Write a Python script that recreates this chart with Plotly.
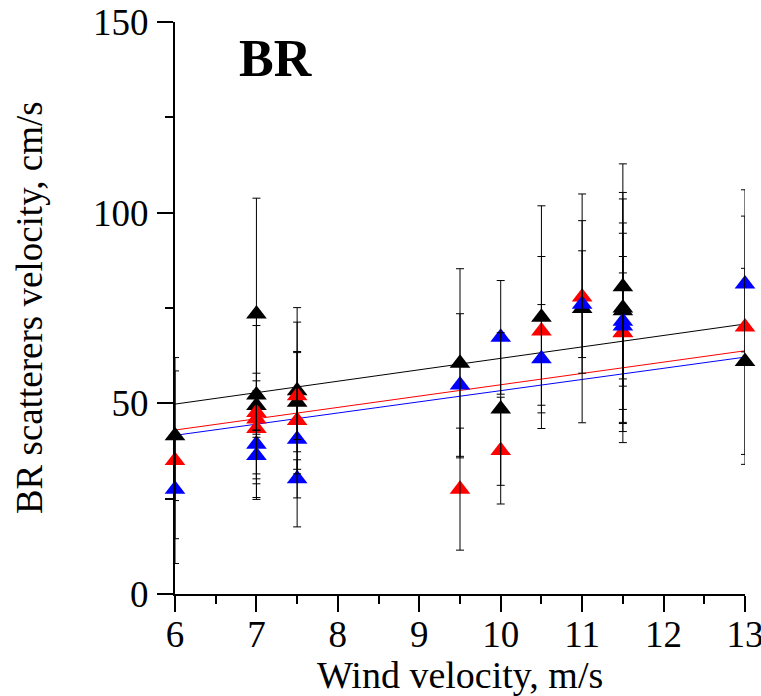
import plotly.graph_objects as go

# ---- data ----
black_x = [6, 7, 7, 7, 7.5, 7.5, 9.5, 10, 10.5, 11, 11.5, 11.5, 11.5, 13]
black_y = [41.5, 73.4, 52.2, 49.4, 53.3, 50.3, 60.5, 48.5, 72.6, 74.9, 80.6, 75.0, 74.3, 61.0]
black_err = [17, 30.4, 22, 6.5, 21.8, 13, 24.8, 20, 29.2, 30, 32.2, 30.3, 29.3, 24.4]

red_x = [6, 7, 7, 7, 7.5, 7.5, 9.5, 10, 10.5, 11, 11.5, 11.5, 13]
red_y = [35.0, 47.6, 45.9, 43.4, 52.0, 45.5, 27.5, 37.6, 69.0, 77.9, 68.5, 68.6, 70.0]
red_err = [27, 22.8, 4, 14.5, 19.3, 5, 16, 14, 19.5, 20, 28.8, 26, 36]

blue_x = [6, 7, 7, 7.5, 7.5, 9.5, 10, 10.5, 11, 11.5, 11.5, 13]
blue_y = [27.5, 39.3, 36.3, 40.6, 30.2, 54.8, 67.3, 61.7, 76.0, 71.5, 70.3, 81.3]
blue_err = [13, 14, 4.8, 23, 5, 18.7, 14.9, 14.2, 14, 17, 13.9, 17.8]

# linear fits (slope, intercept)
fit_x = [6, 13]
black_fit = (3.0, 31.8)
red_fit = (2.97, 25.17)
blue_fit = (2.93, 24.03)

x_ticks = [6, 7, 8, 9, 10, 11, 12, 13]
y_ticks = [0, 50, 100, 150]

FONT = "Liberation Serif, Times New Roman, serif"

series = [
    (black_x, black_y, black_err, black_fit, "black"),
    (red_x, red_y, red_err, red_fit, "#ff0000"),
    (blue_x, blue_y, blue_err, blue_fit, "#0000ff"),
]

fig = go.Figure()

# fit lines
for xs, ys, es, (m, b), col in series:
    fig.add_trace(go.Scatter(
        x=fit_x, y=[m * v + b for v in fit_x], mode="lines",
        line=dict(color=col, width=1), showlegend=False, hoverinfo="skip"))

# markers
for xs, ys, es, fit, col in series:
    fig.add_trace(go.Scatter(
        x=xs, y=ys, mode="markers", cliponaxis=False,
        marker=dict(symbol="triangle-up", size=18, color=col, line=dict(width=0)),
        showlegend=False))

# error bars on top of markers
for xs, ys, es, fit, col in series:
    fig.add_trace(go.Scatter(
        x=xs, y=ys, mode="markers",
        marker=dict(size=1, opacity=0),
        error_y=dict(type="data", array=es, visible=True, color="black",
                     thickness=1, width=4),
        showlegend=False, hoverinfo="skip"))

fig.add_annotation(text="<b>BR</b>", xref="paper", yref="paper",
                   x=0.177, y=0.937, xanchor="center", yanchor="middle",
                   showarrow=False, font=dict(family=FONT, size=52, color="black"))

# axis titles as annotations for exact placement
fig.add_annotation(text="Wind velocity, m/s", xref="paper", yref="paper",
                   x=0.5, y=-0.142, xanchor="center", yanchor="middle",
                   showarrow=False, font=dict(family=FONT, size=38, color="black"))
fig.add_annotation(text="BR scatterers velocity, cm/s", xref="paper", yref="paper",
                   x=-0.256, y=0.5, xanchor="center", yanchor="middle", textangle=-90,
                   showarrow=False, font=dict(family=FONT, size=37, color="black"))

axis_common = dict(
    showline=True, linecolor="black", linewidth=2, mirror=False,
    showgrid=False, zeroline=False, automargin=False,
    ticks="outside", ticklen=16, tickwidth=2, tickcolor="black",
    tickfont=dict(family=FONT, size=37, color="black"),
    ticklabeloverflow="allow",
)

fig.update_layout(
    width=761, height=696,
    margin=dict(l=175, r=16, t=22, b=102),
    paper_bgcolor="white", plot_bgcolor="white",
    xaxis=dict(range=[6, 13], tickvals=x_ticks, ticktext=[str(v) for v in x_ticks],
               minor=dict(dtick=0.5, tick0=6, ticklen=8, tickwidth=2, tickcolor="black", ticks="outside"),
               ticklabelstandoff=-9,
               **axis_common),
    yaxis=dict(range=[0, 150], tickvals=y_ticks, ticktext=[str(v) for v in y_ticks],
               minor=dict(dtick=25, tick0=0, ticklen=8, tickwidth=2, tickcolor="black", ticks="outside"),
               ticklabelstandoff=1,
               **axis_common),
)

fig.write_html("out.html", config={"displayModeBar": False},
               post_script="document.body.style.margin='0';document.body.style.overflow='hidden';")
